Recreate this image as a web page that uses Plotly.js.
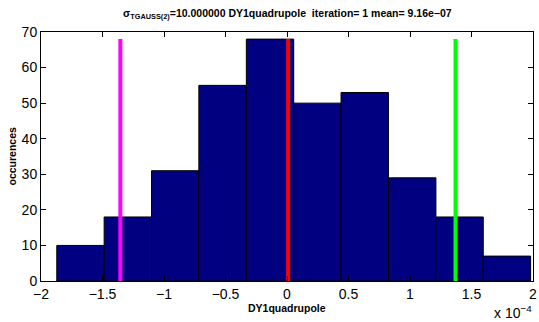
<!DOCTYPE html>
<html>
<head>
<meta charset="utf-8">
<script src="https://cdn.plot.ly/plotly-3.0.1.min.js"></script>
<style>html,body{margin:0;padding:0;background:#fff;}#chart{width:539px;height:322px;}</style>
</head>
<body>
<div id="chart"></div>
<script>
// bin centres (units of 1e-4)
var binCenters = [-1.679, -1.294, -0.909, -0.524, -0.138, 0.247, 0.632, 1.018, 1.403, 1.788];
var counts = [10, 18, 31, 55, 68, 50, 53, 29, 18, 7];
var binWidth = 0.3853;
var meanX = 0.0092;
var lowX = -1.355;
var highX = 1.370;
var lineTop = 68;
var xTicks = [-2, -1.5, -1, -0.5, 0, 0.5, 1, 1.5, 2];
var yTicks = [0, 10, 20, 30, 40, 50, 60, 70];

var font = 'Liberation Sans, Arial, Helvetica, sans-serif';

var traces = [
  {type: 'bar', x: binCenters, y: counts, width: binWidth,
   marker: {color: '#000080', line: {color: '#000000', width: 1}}, hoverinfo: 'none'},
  {type: 'scatter', mode: 'lines', x: [lowX, lowX], y: [0, lineTop], line: {color: '#ff00ff', width: 4}},
  {type: 'scatter', mode: 'lines', x: [meanX, meanX], y: [0, lineTop], line: {color: '#ff0000', width: 4}},
  {type: 'scatter', mode: 'lines', x: [highX, highX], y: [0, lineTop], line: {color: '#00ff00', width: 4}}
];

var layout = {
  width: 539, height: 322,
  margin: {l: 41, r: 6, t: 32, b: 41},
  paper_bgcolor: '#ffffff', plot_bgcolor: '#ffffff',
  showlegend: false,
  bargap: 0,
  font: {family: font, color: '#000'},
  xaxis: {range: [-2, 2], tickvals: xTicks, ticktext: xTicks.map(function(v){return String(v).replace('-', '\u2212');}),
          ticks: 'inside', ticklen: 5, tickcolor: '#000', showgrid: false, zeroline: false,
          showline: true, linecolor: '#000', linewidth: 1, mirror: 'ticks',
          tickfont: {size: 14, family: font}},
  yaxis: {range: [0, 70], tickvals: yTicks, ticks: 'inside', ticklen: 5, tickcolor: '#000',
          showgrid: false, zeroline: false, showline: true, linecolor: '#000', linewidth: 1, mirror: 'ticks',
          tickfont: {size: 14, family: font}},
  annotations: [
    {xref: 'paper', yref: 'paper', x: 0.5, y: 1, yshift: 18, yanchor: 'middle', showarrow: false,
     text: '<b>σ<sub>TGAUSS(2)</sub>=10.000000 DY1quadrupole  iteration= 1 mean= 9.16e\u221207</b>',
     font: {size: 10.5, family: font}},
    {xref: 'paper', yref: 'paper', x: 0.5, y: 0, yshift: -27, yanchor: 'middle', showarrow: false,
     text: '<b>DY1quadrupole</b>', font: {size: 10.5, family: font}},
    {xref: 'paper', yref: 'paper', x: 0, xshift: -30, xanchor: 'center', y: 0.5, yanchor: 'middle', textangle: -90, showarrow: false,
     text: '<b>occurences</b>', font: {size: 10.5, family: font}},
    {xref: 'paper', yref: 'paper', x: 1, xshift: 1, xanchor: 'right', y: 0, yshift: -31, yanchor: 'middle', showarrow: false,
     text: 'x 10<sup>\u22124</sup>', font: {size: 14, family: font}}
  ]
};

Plotly.newPlot('chart', traces, layout, {staticPlot: true, displayModeBar: false});
</script>
</body>
</html>
